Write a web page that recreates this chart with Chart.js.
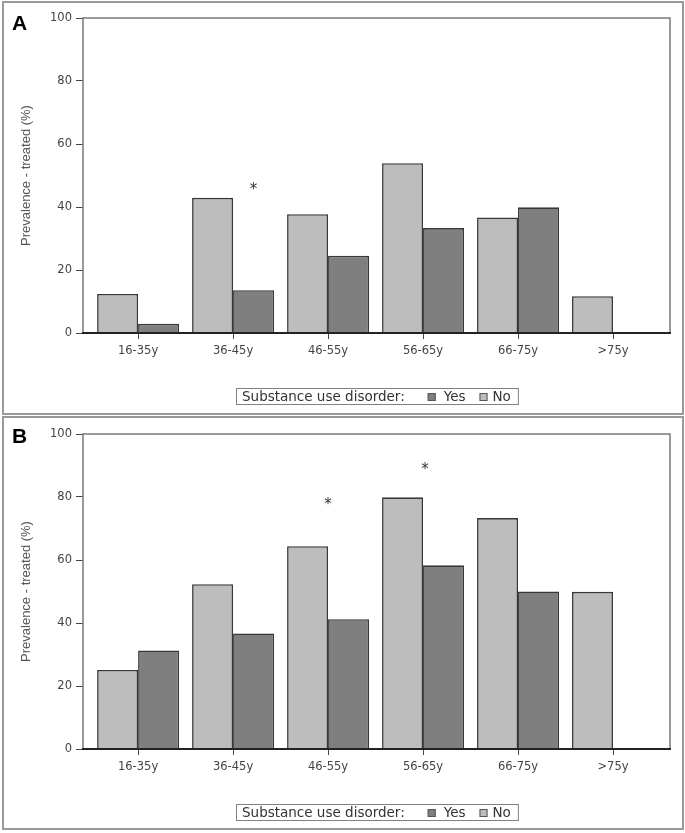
<!DOCTYPE html>
<html>
<head>
<meta charset="utf-8">
<script src="https://cdn.jsdelivr.net/npm/chart.js@4.4.1/dist/chart.umd.min.js"></script>
<style>
  body { margin: 0; background: #fff; }
  .panel { position: absolute; left: 2px; width: 678px; height: 410px; border: 2px solid #9a9a9a; }
  #panelA { top: 1px; }
  #panelB { top: 416px; }
</style>
</head>
<body>
<div class="panel" id="panelA"><canvas id="chartA"></canvas></div>
<div class="panel" id="panelB"><canvas id="chartB"></canvas></div>
<script>
const ageGroups = ['16-35y', '36-45y', '46-55y', '56-65y', '66-75y', '>75y'];
const yTicks = [0, 20, 40, 60, 80, 100];

// panel A
const noA  = [12.4, 42.9, 37.7, 53.9, 36.7, 11.7];
const yesA = [2.9, 13.6, 24.5, 33.3, 39.9, null];
const starsA = [{ x: 1.215, y: 45.9 }];

// panel B
const noB  = [25.1, 52.3, 64.4, 79.9, 73.3, 49.9];
const yesB = [31.3, 36.7, 41.2, 58.3, 50.0, null];
const starsB = [{ x: 2, y: 78.1 }, { x: 3.02, y: 89.2 }];

const tickFont = { family: 'DejaVu Sans', size: 11.5 };

// frame, asterisks, panel letter and the legend box
const extras = {
    id: 'extras',
    afterDraw(chart, args, opts) {
        const { ctx, chartArea: a, scales: { x, y } } = chart;
        ctx.save();
        ctx.strokeStyle = '#7a7a7a';
        ctx.lineWidth = 1.5;
        ctx.beginPath();
        ctx.moveTo(a.left, a.bottom);
        ctx.lineTo(a.left, a.top);
        ctx.lineTo(a.right, a.top);
        ctx.lineTo(a.right, a.bottom);
        ctx.stroke();
        ctx.strokeStyle = '#222';
        ctx.lineWidth = 2;
        ctx.beginPath();
        ctx.moveTo(a.left - 1, a.bottom);
        ctx.lineTo(a.right + 1, a.bottom);
        ctx.stroke();

        // significance marks
        ctx.fillStyle = '#333';
        ctx.font = '15px "DejaVu Sans"';
        ctx.textAlign = 'center';
        ctx.textBaseline = 'alphabetic';
        opts.stars.forEach(s => {
            ctx.fillText('*', x.getPixelForValue(s.x), y.getPixelForValue(s.y) + 15 * 0.545 - 2.5);
        });

        // panel letter
        ctx.fillStyle = '#000';
        ctx.font = 'bold 21px "Liberation Sans"';
        ctx.textAlign = 'left';
        ctx.fillText(opts.tag, 8, opts.tagY);

        // legend: title, then Yes / No
        ctx.font = '13.5px "DejaVu Sans"';
        const title = 'Substance use disorder:';
        const items = chart.data.datasets.slice().reverse();
        const gaps = [[23, 8], [14, 5]];
        const wT = ctx.measureText(title).width;
        let total = 6 + wT + 7;
        items.forEach((d, i) => { total += gaps[i][0] + 8 + gaps[i][1] + ctx.measureText(d.label).width; });
        const bx = Math.round((a.left + a.right) / 2 - total / 2);
        const by = Math.round(a.bottom + 55);
        ctx.strokeStyle = '#808080';
        ctx.lineWidth = 1;
        ctx.strokeRect(bx + 0.5, by + 0.5, total, 16);
        ctx.fillStyle = '#333';
        ctx.textBaseline = 'middle';
        let cx = bx + 6;
        ctx.fillText(title, cx, by + 9);
        cx += wT;
        items.forEach((d, i) => {
            cx += gaps[i][0];
            ctx.fillStyle = d.backgroundColor;
            ctx.fillRect(cx, by + 5, 8, 8);
            ctx.strokeStyle = '#555';
            ctx.strokeRect(cx + 0.5, by + 5.5, 7, 7);
            cx += 8 + gaps[i][1];
            ctx.fillStyle = '#333';
            ctx.fillText(d.label, cx, by + 9);
            cx += ctx.measureText(d.label).width;
        });
        ctx.restore();
    }
};

function createChart(id, noData, yesData, stars, tag, tagY, padTop, padBottom) {
    return new Chart(document.getElementById(id), {
        type: 'bar',
        data: {
            labels: ageGroups,
            datasets: [
                { label: 'No', data: noData, backgroundColor: '#bdbdbd', borderColor: '#383838', borderWidth: 1.6 },
                { label: 'Yes', data: yesData, backgroundColor: '#7f7f7f', borderColor: '#383838', borderWidth: 1.6 }
            ]
        },
        options: {
            responsive: true,
            maintainAspectRatio: false,
            animation: false,
            layout: { padding: { left: 0, right: 12, top: padTop, bottom: padBottom } },
            datasets: { bar: { barPercentage: 1, categoryPercentage: 0.863 } },
            plugins: {
                legend: { display: false },
                tooltip: { enabled: false },
                extras: { stars: stars, tag: tag, tagY: tagY }
            },
            scales: {
                x: {
                    offset: true,
                    afterBuildTicks: s => { s._startValue -= 0.08; s._valueRange += 0.18; },
                    afterFit: s => { s.height = 40; },
                    border: { display: false },
                    grid: { offset: false, drawOnChartArea: false, drawTicks: true, tickLength: 6, color: '#444' },
                    ticks: { font: tickFont, color: '#444', padding: 5, maxRotation: 0 }
                },
                y: {
                    min: 0,
                    max: 100,
                    afterFit: s => { s.width = 79; },
                    afterBuildTicks: s => { s.ticks = yTicks.map(v => ({ value: v })); },
                    border: { display: false },
                    grid: { drawOnChartArea: false, drawTicks: true, tickLength: 7, color: '#444' },
                    ticks: { font: tickFont, color: '#444', padding: 4 },
                    title: {
                        display: true,
                        text: 'Prevalence - treated (%)',
                        color: '#555',
                        font: { family: 'Liberation Sans', size: 13 },
                        padding: { top: 15, bottom: 0 }
                    }
                }
            }
        },
        plugins: [extras]
    });
}

createChart('chartA', noA, yesA, starsA, 'A', 27, 15, 40);
createChart('chartB', noB, yesB, starsB, 'B', 25, 16, 39);
</script>
</body>
</html>
